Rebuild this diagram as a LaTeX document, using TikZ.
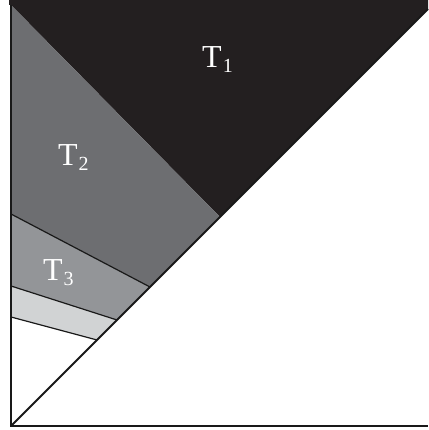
\documentclass[tikz,border=0pt]{standalone}
\usepackage{fontspec}
\setmainfont{Liberation Serif}
\usetikzlibrary{positioning}

\newcommand{\lowsub}[1]{\kern1pt\raisebox{-5pt}{\fontsize{20}{20}\selectfont #1}}

\begin{document}
\begin{tikzpicture}[
  x=1pt, y=1pt,
  edge/.style={draw=black!90, line width=1.8pt},
  seam/.style={draw=black!90, line width=1.2pt},
  lbl/.style={anchor=base west, inner sep=0pt, text=white,
              font=\fontsize{32}{32}\selectfont},
]
\definecolor{tOne}{HTML}{231F20}
\definecolor{tTwo}{HTML}{6D6E71}
\definecolor{tThree}{HTML}{939598}
\definecolor{tFour}{HTML}{D1D3D4}

\useasboundingbox (0,0) rectangle (428,430);

%% corners and seams
\coordinate (o)   at (11,4);
\coordinate (br)  at (428,4);
\coordinate (tr)  at (428,421);
\coordinate (tl)  at (11,430);
\coordinate (top) at (428,430);
\coordinate (a0)  at (11,425);
\coordinate (a1)  at (220,213);
\coordinate (b0)  at (11,216);
\coordinate (b1)  at (150,143);
\coordinate (c0)  at (11,144);
\coordinate (c1)  at (117,110);
\coordinate (d0)  at (11,113);
\coordinate (d1)  at (97,90);

%% regions
\fill[tOne]   (9,430) -- (top) -- (tr) -- (a1) -- (a0) -- (9,425) -- cycle;
\fill[tTwo]   (a0) -- (a1) -- (b1) -- (b0) -- cycle;
\fill[tThree] (b0) -- (b1) -- (c1) -- (c0) -- cycle;
\fill[tFour]  (c0) -- (c1) -- (d1) -- (d0) -- cycle;

%% seams
\draw[seam] (b0) -- (b1);
\draw[seam] (c0) -- (c1);
\draw[seam] (d0) -- (d1);

%% frame
\draw[edge] (a0) -- (o) -- (br);
\draw[edge] (o) -- (tr);

%% labels
\node[lbl] (t1) at (202,362) {T\lowsub{1}};
\node[lbl] (t2) at (58,264)  {T\lowsub{2}};
\node[lbl] (t3) at (43,149)  {T\lowsub{3}};

\end{tikzpicture}
\end{document}
